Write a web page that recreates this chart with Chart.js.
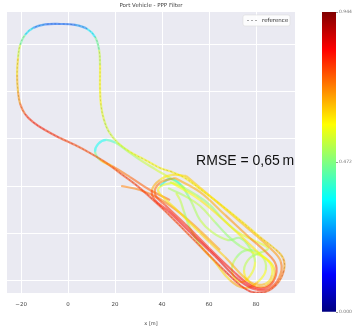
<!DOCTYPE html>
<html>
<head>
<meta charset="utf-8">
<script src="https://cdn.jsdelivr.net/npm/chart.js@4.4.1/dist/chart.umd.min.js"></script>
<style>
  html, body { margin: 0; padding: 0; background: #fff; }
  #wrap { position: relative; width: 355px; height: 330px; }
  #main { position: absolute; left: 0; top: 0; }
  #cbar { position: absolute; left: 300px; top: 0; }
</style>
</head>
<body>
<div id="wrap">
  <canvas id="main" width="300" height="330"></canvas>
  <canvas id="cbar" width="55" height="330"></canvas>
</div>
<script>
// ---- data: [x (m), y (m), error (m)] ----
const bigLoop = [
  [44.3, 26.0, 0.6], [39.1, 27.7, 0.6], [32.8, 31.1, 0.58], [26.4, 34.5, 0.58],
  [21.3, 38.3, 0.55], [17.4, 43.0, 0.55], [15.3, 48.1, 0.55], [14.0, 54.5, 0.58],
  [13.6, 61.7, 0.6], [13.6, 71.5, 0.58], [13.2, 77.9, 0.5], [11.5, 83.4, 0.4],
  [8.1, 86.8, 0.28], [3.0, 88.5, 0.22], [-3.4, 88.9, 0.2], [-9.8, 88.7, 0.21],
  [-14.9, 87.2, 0.26], [-18.3, 84.3, 0.4], [-20.4, 80.0, 0.5], [-21.3, 74.5, 0.6],
  [-21.7, 67.2, 0.64], [-21.3, 60.0, 0.66], [-20.4, 54.9, 0.72], [-18.3, 50.6, 0.78],
  [-14.9, 47.2, 0.8], [-9.8, 43.8, 0.8], [-3.4, 40.4, 0.78], [3.0, 37.4, 0.76],
  [9.4, 34.0, 0.76], [15.7, 30.2, 0.76], [22.1, 25.5, 0.76], [28.5, 20.8, 0.78],
  [34.9, 15.3, 0.78], [41.3, 9.4, 0.78], [49.8, 0.9, 0.76], [58.3, -7.7, 0.76],
  [66.8, -16.2, 0.78], [73.2, -22.1, 0.8], [78.3, -25.1, 0.8], [83.8, -25.1, 0.78],
  [88.9, -21.7, 0.76], [91.9, -15.7, 0.7], [91.5, -10.6, 0.66], [88.1, -6.8, 0.64],
  [81.7, -1.7, 0.62], [73.2, 5.5, 0.6], [64.7, 12.3, 0.6], [56.2, 18.7, 0.6],
  [49.8, 23.4, 0.6], [44.3, 26.0, 0.6]
];
const lap2 = [
  [45.5, 23.4, 0.68], [56.2, 17.4, 0.66], [66.8, 7.7, 0.68], [77.4, -2.1, 0.7],
  [84.2, -8.1, 0.72], [88.5, -13.6, 0.75], [87.7, -20.0, 0.78], [83.8, -23.4, 0.8],
  [78.3, -22.6, 0.82], [71.1, -17.0, 0.82], [60.4, -6.8, 0.8], [49.8, 3.8, 0.8],
  [41.3, 11.9, 0.78], [37.0, 16.6, 0.76], [39.1, 21.3, 0.7], [45.5, 23.4, 0.68]
];
const lap3 = [
  [44.3, 21.3, 0.58], [56.2, 14.0, 0.6], [68.9, 3.0, 0.62], [80.8, -8.1, 0.6],
  [86.0, -12.8, 0.58], [86.8, -17.9, 0.6], [83.8, -21.7, 0.65], [77.4, -20.8, 0.68],
  [66.8, -10.2, 0.65], [56.2, 0.0, 0.62], [46.8, 9.4, 0.6], [40.4, 15.3, 0.62],
  [38.3, 18.3, 0.6], [40.4, 20.4, 0.55], [44.3, 21.3, 0.58]
];
const lap4 = [
  [50.2, 24.3, 0.64], [62.5, 14.0, 0.64], [75.3, 3.0, 0.66], [86.0, -6.4, 0.68],
  [90.6, -12.3, 0.7], [89.8, -19.1, 0.74], [85.1, -23.8, 0.78], [79.1, -23.8, 0.82],
  [72.3, -19.6, 0.85], [62.5, -9.8, 0.85], [51.9, 0.4, 0.84], [42.6, 9.4, 0.82],
  [37.0, 14.0, 0.8], [35.7, 18.3, 0.74], [39.1, 22.6, 0.6], [44.3, 24.7, 0.62],
  [50.2, 24.3, 0.64]
];
const weaveA = [
  [42.6, 19.1, 0.5], [49.8, 15.7, 0.52], [56.2, 11.5, 0.55], [62.5, 4.7, 0.5],
  [68.1, -1.3, 0.48], [73.2, -5.5, 0.5], [78.3, -8.1, 0.55], [83.8, -10.6, 0.6],
  [87.7, -14.9, 0.62], [86.8, -20.4, 0.65], [82.1, -23.0, 0.7], [77.0, -20.8, 0.65],
  [74.9, -15.7, 0.55], [77.4, -10.6, 0.5], [82.5, -8.1, 0.5], [85.1, -6.4, 0.55],
  [79.6, -3.4, 0.58], [72.3, 0.4, 0.55], [65.5, 6.4, 0.5], [60.4, 11.9, 0.48],
  [54.5, 16.2, 0.5], [48.5, 19.6, 0.52], [43.4, 21.7, 0.55]
];
const weaveB = [
  [39.1, 20.0, 0.35], [43.4, 23.0, 0.33], [48.1, 20.4, 0.42], [52.3, 13.6, 0.5],
  [56.2, 5.5, 0.52], [61.3, 0.4, 0.55], [68.1, -3.0, 0.5], [73.2, -2.1, 0.48],
  [77.4, -6.4, 0.5], [79.6, -12.3, 0.55], [77.4, -18.3, 0.6], [73.2, -20.8, 0.62],
  [69.8, -16.6, 0.55], [71.5, -10.6, 0.5], [76.6, -7.2, 0.48], [82.5, -9.8, 0.5],
  [84.2, -15.7, 0.55], [80.8, -20.8, 0.62], [75.3, -23.4, 0.7], [68.9, -20.0, 0.65],
  [62.5, -12.3, 0.6], [56.2, -5.1, 0.55], [51.9, 2.1, 0.5], [49.4, 8.9, 0.5],
  [47.7, 14.0, 0.55], [46.0, 17.0, 0.55]
];
const returnTrack = [
  [43.4, 14.0, 0.72], [34.9, 18.3, 0.74], [26.4, 23.8, 0.74], [18.7, 28.5, 0.7],
  [13.6, 31.1, 0.55], [11.5, 34.5, 0.38], [12.8, 37.9, 0.35], [16.2, 39.6, 0.38],
  [20.4, 38.3, 0.45], [24.7, 35.3, 0.5], [30.6, 31.1, 0.52], [37.0, 27.2, 0.55],
  [43.4, 23.4, 0.55], [49.8, 19.1, 0.55]
];
const entryTrack = [
  [22.6, 20.0, 0.7], [30.6, 18.3, 0.72], [39.1, 14.5, 0.72], [47.7, 8.5, 0.7],
  [56.2, 0.9, 0.68], [64.7, -7.2, 0.68]
];
const tracks = [bigLoop, lap2, lap3, lap4, weaveA, weaveB, returnTrack, entryTrack];

const xTicks = [-20, 0, 20, 40, 60, 80];
const yTicks = [-20, 0, 20, 40, 60, 80];
const cbMin = 0, cbMax = 0.944;
const cbTicks = [0, 0.472, 0.944];
const rmseText = 'RMSE = 0,65\u2009m';

// ---- colour map (jet) ----
function jet(t, a) {
  t = Math.min(1, Math.max(0, t));
  const c = v => Math.round(255 * Math.min(1, Math.max(0, v)));
  return `rgba(${c(1.5 - Math.abs(4 * t - 3))},${c(1.5 - Math.abs(4 * t - 2))},${c(1.5 - Math.abs(4 * t - 1))},${a})`;
}
const errColor = e => jet((e - cbMin) / (cbMax - cbMin), 0.55);

function trackDataset(pts, i) {
  return {
    label: 'track ' + i,
    data: pts.map(p => ({ x: p[0], y: p[1] })),
    showLine: true, tension: 0.4, borderWidth: 2.2, pointRadius: 0,
    borderColor: errColor(pts[0][2]),
    segment: { borderColor: ctx => errColor((pts[ctx.p0DataIndex][2] + pts[ctx.p1DataIndex][2]) / 2) }
  };
}

const refDataset = {
  label: 'reference',
  data: bigLoop.map(p => ({ x: p[0], y: p[1] })),
  showLine: true, tension: 0.4, borderWidth: 1, pointRadius: 0,
  borderColor: 'rgba(130,130,130,0.7)', borderDash: [2, 2], order: 10
};

const bgPlugin = {
  id: 'bg',
  beforeDraw(chart) {
    const { ctx, chartArea: a } = chart;
    ctx.save();
    ctx.fillStyle = '#EAEAF2';
    ctx.fillRect(a.left, a.top, a.right - a.left, a.bottom - a.top);
    ctx.restore();
  }
};

const extrasPlugin = {
  id: 'extras',
  afterDatasetsDraw(chart) {
    const { ctx, chartArea: a, scales } = chart;
    ctx.save();
    // legend box
    const bx = a.right - 52, by = a.top + 3, bw = 47, bh = 11;
    ctx.fillStyle = 'rgba(255,255,255,0.85)';
    ctx.strokeStyle = '#dcdcdc';
    ctx.lineWidth = 0.6;
    ctx.beginPath();
    ctx.roundRect(bx, by, bw, bh, 2);
    ctx.fill(); ctx.stroke();
    ctx.strokeStyle = refDataset.borderColor;
    ctx.setLineDash(refDataset.borderDash);
    ctx.lineWidth = 1;
    ctx.beginPath();
    ctx.moveTo(bx + 4, by + bh / 2); ctx.lineTo(bx + 15, by + bh / 2);
    ctx.stroke();
    ctx.setLineDash([]);
    ctx.fillStyle = '#333';
    ctx.font = '5.5px "DejaVu Sans", sans-serif';
    ctx.textBaseline = 'middle';
    ctx.fillText('reference', bx + 19, by + bh / 2);
    // RMSE annotation
    ctx.fillStyle = '#111';
    ctx.font = '14px "Liberation Sans", Arial, sans-serif';
    ctx.fillText(rmseText, scales.x.getPixelForValue(54.5), scales.y.getPixelForValue(30.6));
    ctx.restore();
  }
};

new Chart(document.getElementById('main'), {
  type: 'scatter',
  data: { datasets: [...tracks.map(trackDataset), refDataset] },
  options: {
    responsive: false, animation: false,
    layout: { padding: { left: 7, right: 5, top: 0, bottom: 0 } },
    plugins: {
      legend: { display: false },
      tooltip: { enabled: false },
      title: {
        display: true, text: 'Port Vehicle - PPP Filter', color: '#444',
        font: { size: 5.5, family: '"DejaVu Sans", sans-serif', weight: 'normal' },
        padding: { top: 2, bottom: 3.4 }
      }
    },
    scales: {
      x: {
        type: 'linear', min: -26, max: 96.6,
        afterBuildTicks: s => { s.ticks = xTicks.map(v => ({ value: v })); },
        afterFit: s => { s.height = 37; },
        grid: { color: '#ffffff', lineWidth: 1, drawTicks: false },
        border: { display: false },
        ticks: {
          color: '#444', padding: 8, font: { size: 5.5, family: '"DejaVu Sans", sans-serif' },
          callback: v => (v < 0 ? '\u2212' + Math.abs(v) : String(v))
        },
        title: {
          display: true, text: 'x [m]', color: '#444',
          font: { size: 5, family: '"DejaVu Sans", sans-serif' }, padding: { top: 0, bottom: 3 }
        }
      },
      y: {
        type: 'linear', min: -25.5, max: 94,
        afterBuildTicks: s => { s.ticks = yTicks.map(v => ({ value: v })); },
        afterFit: s => { s.width = 0; },
        grid: { color: '#ffffff', lineWidth: 1, drawTicks: false },
        border: { display: false },
        ticks: { display: false }
      }
    }
  },
  plugins: [bgPlugin, extrasPlugin]
});

// ---- colour bar ----
function jetGradient(ctx) {
  const a = ctx.chart.chartArea;
  if (!a) return 'rgba(0,0,0,0)';
  const g = ctx.chart.ctx.createLinearGradient(0, a.bottom, 0, a.top);
  [0, 0.125, 0.25, 0.375, 0.5, 0.625, 0.75, 0.875, 1].forEach(t => g.addColorStop(t, jet(t, 1)));
  return g;
}

new Chart(document.getElementById('cbar'), {
  type: 'bar',
  data: {
    labels: [''],
    datasets: [{ data: [[cbMin, cbMax]], backgroundColor: jetGradient, borderWidth: 0, barPercentage: 1, categoryPercentage: 1 }]
  },
  options: {
    responsive: false, animation: false,
    layout: { padding: { left: 22, top: 12, bottom: 18, right: 0 } },
    plugins: { legend: { display: false }, tooltip: { enabled: false } },
    scales: {
      x: { display: false },
      y: {
        position: 'right', min: cbMin, max: cbMax,
        afterBuildTicks: s => { s.ticks = cbTicks.map(v => ({ value: v })); },
        afterFit: s => { s.width = 19; },
        grid: { drawOnChartArea: false, drawTicks: true, tickLength: 2, color: '#999' },
        border: { display: false },
        ticks: { color: '#777', padding: 1, font: { size: 4.5, family: '"DejaVu Sans", sans-serif' }, callback: v => v.toFixed(3) }
      }
    }
  }
});
</script>
</body>
</html>
